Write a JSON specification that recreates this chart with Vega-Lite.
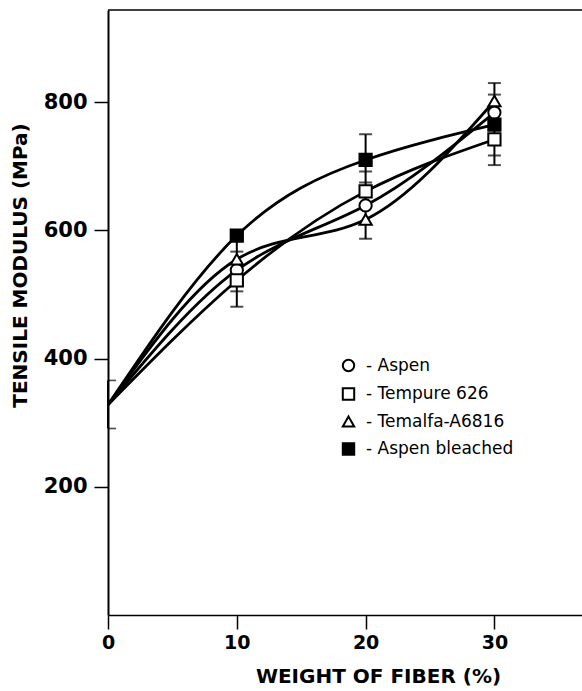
{
  "$schema": "https://vega.github.io/schema/vega-lite/v6.json",
  "autosize": {"type": "none"},
  "padding": {"left": 108, "top": 10, "right": 0, "bottom": 76},
  "width": 474,
  "height": 605,
  "background": "white",
  "config": {
    "view": {"stroke": null},
    "font": "DejaVu Sans",
    "axis": {"grid": false, "domainColor": "black", "tickColor": "black", "labelColor": "black", "titleColor": "black"},
    "legend": {"orient": "none", "legendX": 232, "legendY": 347,
      "labelFont": "DejaVu Sans", "labelFontSize": 17, "labelColor": "black", "symbolSize": 130, "symbolStrokeWidth": 2,
      "rowPadding": 7.5, "labelOffset": 9}
  },
  "datasets": {
    "curves": [
      {"series": "Aspen", "x": 0, "y": 328},
      {"series": "Aspen", "x": 10, "y": 538},
      {"series": "Aspen", "x": 20, "y": 639},
      {"series": "Aspen", "x": 30, "y": 784},
      {"series": "Tempure 626", "x": 0, "y": 328},
      {"series": "Tempure 626", "x": 10, "y": 522},
      {"series": "Tempure 626", "x": 20, "y": 661},
      {"series": "Tempure 626", "x": 30, "y": 742},
      {"series": "Temalfa-A6816", "x": 0, "y": 328},
      {"series": "Temalfa-A6816", "x": 10, "y": 555},
      {"series": "Temalfa-A6816", "x": 20, "y": 617},
      {"series": "Temalfa-A6816", "x": 30, "y": 802},
      {"series": "Aspen bleached", "x": 0, "y": 328},
      {"series": "Aspen bleached", "x": 10, "y": 592},
      {"series": "Aspen bleached", "x": 20, "y": 710},
      {"series": "Aspen bleached", "x": 30, "y": 765}
    ],
    "bars": [
      {"x": 0, "lo": 291, "hi": 366},
      {"x": 10, "lo": 481, "hi": 592},
      {"x": 20, "lo": 587, "hi": 750},
      {"x": 30, "lo": 702, "hi": 830}
    ],
    "caps": [
      {"x": 10, "v": 481}, {"x": 10, "v": 505}, {"x": 10, "v": 567},
      {"x": 20, "v": 587}, {"x": 20, "v": 675}, {"x": 20, "v": 692}, {"x": 20, "v": 750},
      {"x": 30, "v": 702}, {"x": 30, "v": 717}, {"x": 30, "v": 812}, {"x": 30, "v": 830}
    ],
    "caps0": [
      {"x": 0, "v": 291}, {"x": 0, "v": 366}
    ],
    "frame": [{"top": 944}]
  },
  "layer": [
    {
      "data": {"name": "frame"},
      "mark": {"type": "rule", "color": "black", "strokeWidth": 1.5},
      "encoding": {
        "y": {"field": "top", "type": "quantitative", "scale": {"domain": [0, 944], "nice": false, "zero": false}}
      }
    },
    {
      "data": {"name": "curves"},
      "mark": {"type": "line", "interpolate": "natural", "color": "black", "strokeWidth": 2.8},
      "encoding": {
        "x": {"field": "x", "type": "quantitative",
          "scale": {"domain": [0, 36.8], "nice": false, "zero": false},
          "axis": {"values": [0, 10, 20, 30], "title": "WEIGHT  OF  FIBER (%)", "titleX": 270, "labelFlush": false,
            "domainWidth": 1.5, "tickSize": 14, "tickWidth": 1.5, "labelPadding": 4,
            "labelFontSize": 19, "labelFontWeight": "bold", "labelFont": "DejaVu Sans",
            "titleFontSize": 20, "titleFontWeight": "bold", "titlePadding": 14}},
        "y": {"field": "y", "type": "quantitative",
          "scale": {"domain": [0, 944], "nice": false, "zero": false},
          "axis": {"values": [200, 400, 600, 800], "title": "TENSILE  MODULUS  (MPa)", "titleY": 255,
            "domainWidth": 2, "tickSize": 14, "tickWidth": 1.5, "labelPadding": 7,
            "labelFontSize": 21, "labelFontWeight": "bold", "labelFont": "DejaVu Sans",
            "titleFontSize": 20, "titleFontWeight": "bold", "titlePadding": 13}},
        "detail": {"field": "series", "type": "nominal"}
      }
    },
    {
      "data": {"name": "bars"},
      "mark": {"type": "rule", "color": "black", "strokeWidth": 2},
      "encoding": {
        "x": {"field": "x", "type": "quantitative"},
        "y": {"field": "lo", "type": "quantitative"},
        "y2": {"field": "hi"}
      }
    },
    {
      "data": {"name": "caps"},
      "mark": {"type": "tick", "orient": "horizontal", "color": "black", "size": 13, "thickness": 2},
      "encoding": {
        "x": {"field": "x", "type": "quantitative"},
        "y": {"field": "v", "type": "quantitative"}
      }
    },
    {
      "data": {"name": "caps0"},
      "mark": {"type": "tick", "orient": "horizontal", "color": "black", "size": 8, "thickness": 1.6, "xOffset": 4},
      "encoding": {
        "x": {"field": "x", "type": "quantitative"},
        "y": {"field": "v", "type": "quantitative"}
      }
    },
    {
      "data": {"name": "curves"},
      "transform": [{"filter": "datum.x > 0"}],
      "mark": {"type": "point", "strokeWidth": 2, "size": 150, "opacity": 1, "filled": true},
      "encoding": {
        "x": {"field": "x", "type": "quantitative"},
        "y": {"field": "y", "type": "quantitative"},
        "shape": {"field": "series", "type": "nominal",
          "scale": {"domain": ["Aspen", "Tempure 626", "Temalfa-A6816", "Aspen bleached"], "range": ["circle", "square", "triangle-up", "square"]},
          "legend": {"title": null, "labelExpr": "'-  ' + datum.label"}},
        "fill": {"field": "series", "type": "nominal",
          "scale": {"domain": ["Aspen", "Tempure 626", "Temalfa-A6816", "Aspen bleached"], "range": ["white", "white", "white", "black"]},
          "legend": {"title": null, "labelExpr": "'-  ' + datum.label"}},
        "stroke": {"field": "series", "type": "nominal",
          "scale": {"domain": ["Aspen", "Tempure 626", "Temalfa-A6816", "Aspen bleached"], "range": ["black", "black", "black", "black"]},
          "legend": {"title": null, "labelExpr": "'-  ' + datum.label"}}
      }
    }
  ]
}
